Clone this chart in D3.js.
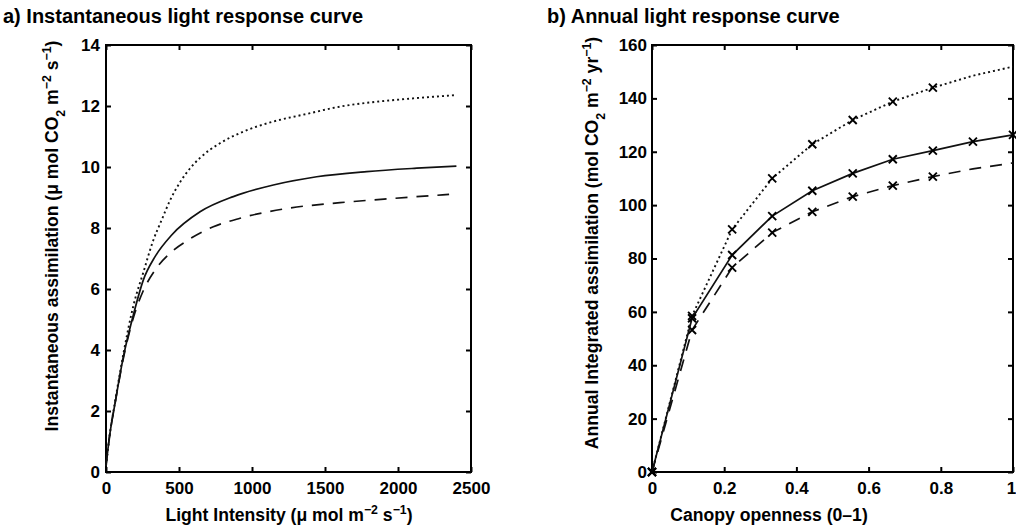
<!DOCTYPE html>
<html><head><meta charset="utf-8">
<script src="https://cdn.jsdelivr.net/npm/d3@7"></script>
<style>
html,body{margin:0;padding:0;background:#fff;}
svg{display:block;font-family:"Liberation Sans",Arial,Helvetica,sans-serif;font-weight:bold;}
</style></head>
<body><svg id="chart" width="1016" height="531"></svg>
<script>
// ---- Panel a: instantaneous light response ----
const lightTicks = [0, 500, 1000, 1500, 2000, 2500];
const assimTicks = [0, 2, 4, 6, 8, 10, 12, 14];
const lightSolid = [0, 25, 60, 120, 190, 256, 336, 450, 644, 872, 1146, 1443, 1786, 2128, 2400];
const assimSolid = [0.2, 1.2, 2.2, 3.8, 5.2, 6.3, 7.06, 7.77, 8.53, 9.03, 9.41, 9.68, 9.85, 9.96, 10.03];
const lightDotted = [0, 25, 60, 120, 190, 256, 324, 381, 438, 507, 575, 644, 781, 940, 1146, 1375, 1603, 1854, 2105, 2400];
const assimDotted = [0.2, 1.2, 2.25, 3.9, 5.5, 6.55, 7.6, 8.26, 8.9, 9.5, 9.95, 10.3, 10.78, 11.16, 11.49, 11.74, 11.98, 12.14, 12.25, 12.36];
const lightDashed = [0, 25, 60, 120, 190, 256, 336, 438, 564, 735, 918, 1238, 1603, 1968, 2350];
const assimDashed = [0.2, 1.2, 2.2, 3.75, 5.1, 5.95, 6.62, 7.17, 7.61, 8.04, 8.32, 8.64, 8.83, 8.97, 9.1];

// ---- Panel b: annual light response ----
const opennessTicks = [0, 0.2, 0.4, 0.6, 0.8, 1];
const annualTicks = [0, 20, 40, 60, 80, 100, 120, 140, 160];
const openness = [0, 0.111, 0.222, 0.333, 0.444, 0.556, 0.667, 0.778, 0.889, 1.0];
const annualSolid = [0, 57.6, 81.3, 95.9, 105.4, 111.9, 117.2, 120.4, 123.8, 126.3];
const annualDotted = [0, 58.5, 90.9, 110.0, 122.8, 131.9, 138.8, 144.0, 148.5, 151.9];
const annualDashed = [0, 53.2, 76.6, 89.7, 97.5, 103.2, 107.3, 110.7, 113.6, 115.8];
const markedSolid = 10;   // number of points carrying markers
const markedOther = 8;

const svg = d3.select("#chart");
const TICK_FS = 17, LABEL_FS = 17.6, TITLE_FS = 20;

function panel(opt) {
  const x = d3.scaleLinear().domain(opt.xDomain).range(opt.xRange);
  const y = d3.scaleLinear().domain(opt.yDomain).range(opt.yRange);
  const g = svg.append("g");
  const [x0, x1] = opt.xRange, [y0, y1] = opt.yRange;

  const bottom = g.append("g").attr("transform", `translate(0,${y0})`)
    .call(d3.axisBottom(x).tickValues(opt.xTicks).tickSize(-5).tickPadding(10).tickFormat(opt.xFmt));
  const top = g.append("g").attr("transform", `translate(0,${y1})`)
    .call(d3.axisTop(x).tickValues(opt.xTicks).tickSize(-5).tickFormat(""));
  const left = g.append("g").attr("transform", `translate(${x0},0)`)
    .call(d3.axisLeft(y).tickValues(opt.yTicks).tickSize(-5).tickPadding(opt.yPad).tickFormat(d3.format("d")));
  const right = g.append("g").attr("transform", `translate(${x1},0)`)
    .call(d3.axisRight(y).tickValues(opt.yTicks).tickSize(-5).tickFormat(""));
  [bottom, top, left, right].forEach(a => {
    a.select(".domain").remove();
    a.selectAll(".tick line").attr("stroke", "#000").attr("stroke-width", 2);
    a.selectAll(".tick text").attr("fill", "#000").attr("font-size", TICK_FS)
      .attr("font-family", "Liberation Sans, Arial, sans-serif").attr("font-weight", "bold");
  });
  if (opt.lastXShift) {
    bottom.selectAll(".tick text").filter(d => d === opt.xTicks[opt.xTicks.length - 1])
      .attr("dx", opt.lastXShift);
  }
  g.append("rect").attr("x", x0).attr("y", y1).attr("width", x1 - x0).attr("height", y0 - y1)
    .attr("fill", "none").attr("stroke", "#000").attr("stroke-width", 2);

  const line = d3.line().x(d => x(d[0])).y(d => y(d[1])).curve(opt.curve);
  opt.series.forEach(s => {
    const pts = s.xs.map((v, i) => [v, s.ys[i]]);
    g.append("path").datum(pts).attr("d", line).attr("fill", "none")
      .attr("stroke", "#111").attr("stroke-width", s.dash === "2,3" ? 1.9 : 1.7)
      .attr("stroke-dasharray", s.dash || null);
    if (s.marks) {
      const m = pts.slice(0, s.marks);
      g.selectAll(null).data(m).enter().append("path")
        .attr("d", d => { const cx = x(d[0]), cy = y(d[1]), r = 4;
          return `M${cx-r},${cy-r}L${cx+r},${cy+r}M${cx-r},${cy+r}L${cx+r},${cy-r}`; })
        .attr("stroke", "#000").attr("stroke-width", 1.9).attr("fill", "none");
    }
  });
  return g;
}

panel({
  xDomain: [0, 2500], xRange: [106, 471], yDomain: [0, 14], yRange: [472, 45],
  xTicks: lightTicks, yTicks: assimTicks, yPad: 6, xFmt: d3.format("d"),
  curve: d3.curveMonotoneX,
  series: [
    { xs: lightDotted, ys: assimDotted, dash: "2,3" },
    { xs: lightDashed, ys: assimDashed, dash: "12,9" },
    { xs: lightSolid, ys: assimSolid }
  ]
});
panel({
  xDomain: [0, 1], xRange: [652, 1013], yDomain: [0, 160], yRange: [472, 45],
  xTicks: opennessTicks, yTicks: annualTicks, yPad: 5, xFmt: d => d3.format("")(d),
  curve: d3.curveLinear, lastXShift: -2,
  series: [
    { xs: openness, ys: annualDotted, dash: "2,3", marks: markedOther },
    { xs: openness, ys: annualDashed, dash: "12,9", marks: markedOther },
    { xs: openness, ys: annualSolid, marks: markedSolid }
  ]
});

svg.append("text").attr("x", 3).attr("y", 23).attr("font-size", TITLE_FS).text("a) Instantaneous light response curve");
svg.append("text").attr("x", 547).attr("y", 23).attr("font-size", TITLE_FS).text("b) Annual light response curve");

function rich(sel, parts) {
  parts.forEach(([t, k]) => {
    const ts = sel.append("tspan").text(t);
    if (k === "sup") ts.attr("font-size", "70%").attr("baseline-shift", "super");
    if (k === "sub") ts.attr("font-size", "70%").attr("baseline-shift", "sub");
  });
  return sel;
}

rich(svg.append("text").attr("x", 289).attr("y", 521).attr("text-anchor", "middle").attr("font-size", LABEL_FS),
  [["Light Intensity (\u03bc mol m"], ["\u22122", "sup"], [" s"], ["\u22121", "sup"], [")"]]);
rich(svg.append("text").attr("x", 769).attr("y", 521).attr("text-anchor", "middle").attr("font-size", LABEL_FS),
  [["Canopy openness (0\u20131)"]]);
rich(svg.append("text").attr("transform", "translate(58,236) rotate(-90)").attr("text-anchor", "middle").attr("font-size", LABEL_FS),
  [["Instantaneous assimilation (\u03bc mol CO"], ["2", "sub"], [" m"], ["\u22122", "sup"], [" s"], ["\u22121", "sup"], [")"]]);
rich(svg.append("text").attr("transform", "translate(598,243) rotate(-90)").attr("text-anchor", "middle").attr("font-size", LABEL_FS),
  [["Annual Integrated assimilation (mol CO"], ["2", "sub"], [" m"], ["\u22122", "sup"], [" yr"], ["\u22121", "sup"], [")"]]);
</script></body></html>
